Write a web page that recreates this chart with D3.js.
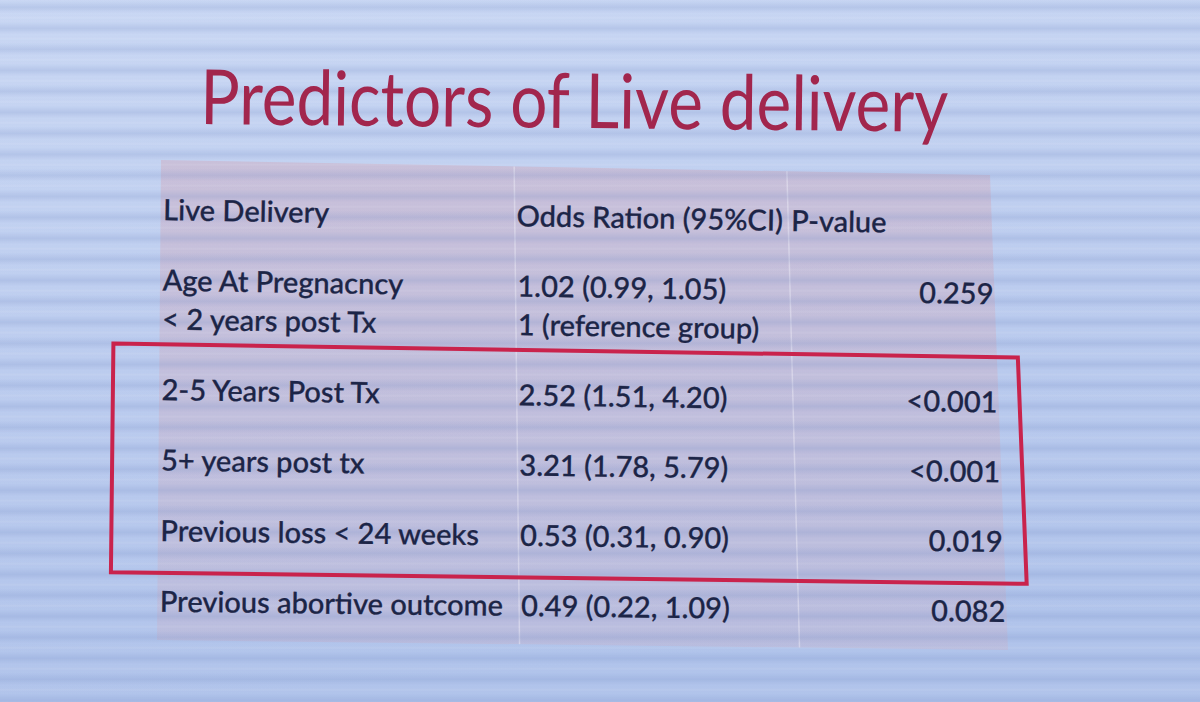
<!DOCTYPE html>
<html>
<head>
<meta charset="utf-8">
<script src="https://cdn.jsdelivr.net/npm/d3@7"></script>
<style>
  html, body { margin: 0; padding: 0; background: #bccdef; }
  svg { display: block; }
</style>
</head>
<body>
<div class="slide"></div>
<script>
var width = 1200, height = 702;

// table content
var title = "Predictors of Live delivery";
var headers = ["Live Delivery", "Odds Ration (95%CI)", "P-value"];
var predictors = [
  ["Age At Pregnacncy", "< 2 years post Tx"],
  ["2-5 Years Post Tx"],
  ["5+ years post tx"],
  ["Previous loss < 24 weeks"],
  ["Previous abortive outcome"]
];
var oddsRatios = [
  ["1.02 (0.99, 1.05)", "1 (reference group)"],
  ["2.52 (1.51, 4.20)"],
  ["3.21 (1.78, 5.79)"],
  ["0.53 (0.31, 0.90)"],
  ["0.49 (0.22, 1.09)"]
];
var pValues = ["0.259", "<0.001", "<0.001", "0.019", "0.082"];
var highlighted = [1, 2, 3]; // rows inside the red box

var ink = "#1c2547", red = "#c9234c", titleRed = "#a2264d";

// the slide was photographed at a slight angle: map flat table (u,v) into the photo
var quad = {tl: [161, 160], tr: [990, 175], bl: [157, 640], br: [1008, 650]};
function proj(u, v) {
  var tx = quad.tl[0] + (quad.tr[0] - quad.tl[0]) * u,
      ty = quad.tl[1] + (quad.tr[1] - quad.tl[1]) * u,
      bx = quad.bl[0] + (quad.br[0] - quad.bl[0]) * u,
      by = quad.bl[1] + (quad.br[1] - quad.bl[1]) * u;
  return [tx + (bx - tx) * v, ty + (by - ty) * v];
}
function angle(v) {
  var a = proj(0, v), b = proj(1, v);
  return Math.atan2(b[1] - a[1], b[0] - a[0]) * 180 / Math.PI;
}

// columns (u) and line slots (v)
var colStart = d3.scaleOrdinal().domain([0, 1, 2]).range([0.003, 0.428, 0.758]);
var colRight = 0.998;
var dividers = [0.426, 0.755];
var extraLine = 0.55;
var rowLines = [1].concat(predictors.map(function(d) { return d.length; }));
var firstLine = [], acc = 0;
rowLines.forEach(function(n) { firstLine.push(acc); acc += 1 + (n - 1) * extraLine; });
var vScale = d3.scaleLinear().domain([0, 1]).range([0.125, 0.272]);

var svg = d3.select(".slide")
  .append("svg")
    .attr("width", width)
    .attr("height", height);

var defs = svg.append("defs");
var bg = defs.append("linearGradient").attr("id", "bg")
  .attr("x1", 0).attr("y1", 0).attr("x2", 0.15).attr("y2", 1);
bg.append("stop").attr("offset", 0).attr("stop-color", "#cad8f4");
bg.append("stop").attr("offset", 0.5).attr("stop-color", "#bdcdef");
bg.append("stop").attr("offset", 1).attr("stop-color", "#b1c4eb");

var band = defs.append("linearGradient").attr("id", "band")
  .attr("x1", 0).attr("y1", 0).attr("x2", 0).attr("y2", 1);
band.append("stop").attr("offset", 0).attr("stop-color", "#7088c2").attr("stop-opacity", 0);
band.append("stop").attr("offset", 0.35).attr("stop-color", "#7088c2").attr("stop-opacity", 0.2);
band.append("stop").attr("offset", 0.65).attr("stop-color", "#7088c2").attr("stop-opacity", 0);
band.append("stop").attr("offset", 0.85).attr("stop-color", "#ffffff").attr("stop-opacity", 0.08);
band.append("stop").attr("offset", 1).attr("stop-color", "#7088c2").attr("stop-opacity", 0);

var stripes = defs.append("pattern").attr("id", "stripes")
  .attr("patternUnits", "userSpaceOnUse")
  .attr("width", width).attr("height", 21);
stripes.append("rect").attr("width", width).attr("height", 21).attr("fill", "url(#band)");

var shade = defs.append("linearGradient").attr("id", "shade")
  .attr("x1", 0).attr("y1", 0).attr("x2", 0).attr("y2", 1);
shade.append("stop").attr("offset", 0).attr("stop-color", "#cfaec2").attr("stop-opacity", 0.5);
shade.append("stop").attr("offset", 1).attr("stop-color", "#c8b0c8").attr("stop-opacity", 0.36);

svg.append("rect").attr("width", width).attr("height", height).attr("fill", "url(#bg)");

var line = d3.line();
function box(u0, u1, v0, v1) {
  return line([proj(u0, v0), proj(u1, v0), proj(u1, v1), proj(u0, v1)]) + "Z";
}

// table shading
svg.append("path")
  .attr("d", box(0, 1, 0, 1))
  .attr("fill", "url(#shade)");

svg.selectAll(".divider")
  .data(dividers)
  .enter().append("path")
    .attr("class", "divider")
    .attr("d", function(u) { return line([proj(u, 0), proj(u, 1)]); })
    .attr("stroke", "#eceaf6")
    .attr("stroke-opacity", 0.5)
    .attr("stroke-width", 1.5);

// screen stripes
svg.append("rect").attr("width", width).attr("height", height).attr("fill", "url(#stripes)");

// title
svg.append("text")
  .attr("transform", "translate(200,124) rotate(0.6)")
  .attr("font-family", "Lato, 'Open Sans', sans-serif")
  .attr("font-size", 76)
  .attr("fill", titleRed)
  .attr("textLength", 748)
  .attr("lengthAdjust", "spacingAndGlyphs")
  .text(title);

// cells
var cells = [];
headers.forEach(function(h, c) {
  cells.push({text: h, u: colStart(c), v: vScale(firstLine[0]), anchor: "start"});
});
predictors.forEach(function(lines, i) {
  var r = i + 1;
  lines.forEach(function(t, k) {
    cells.push({text: t, u: colStart(0), v: vScale(firstLine[r] + k * extraLine), anchor: "start"});
  });
  oddsRatios[i].forEach(function(t, k) {
    cells.push({text: t, u: colStart(1), v: vScale(firstLine[r] + k * extraLine), anchor: "start"});
  });
  cells.push({text: pValues[i], u: colRight, v: vScale(firstLine[r]), anchor: "end"});
});

svg.selectAll(".cell")
  .data(cells)
  .enter().append("text")
    .attr("class", "cell")
    .attr("transform", function(d) {
      var p = proj(d.u, d.v);
      return "translate(" + p[0] + "," + p[1] + ") rotate(" + angle(d.v) + ")";
    })
    .attr("text-anchor", function(d) { return d.anchor; })
    .attr("font-family", "Lato, 'Open Sans', sans-serif")
    .attr("font-size", 29)
    .attr("font-weight", 500)
    .attr("fill", ink)
    .attr("stroke", ink)
    .attr("stroke-width", 0.3)
    .text(function(d) { return d.text; });

// red highlight box around the significant rows
var first = highlighted[0] + 1, last = highlighted[highlighted.length - 1] + 1;
svg.append("path")
  .attr("d", box(-0.055, 1.025, vScale(firstLine[first] - 0.79), vScale(firstLine[last] + 0.45)))
  .attr("fill", "none")
  .attr("stroke", red)
  .attr("stroke-width", 4);
</script>
</body>
</html>
